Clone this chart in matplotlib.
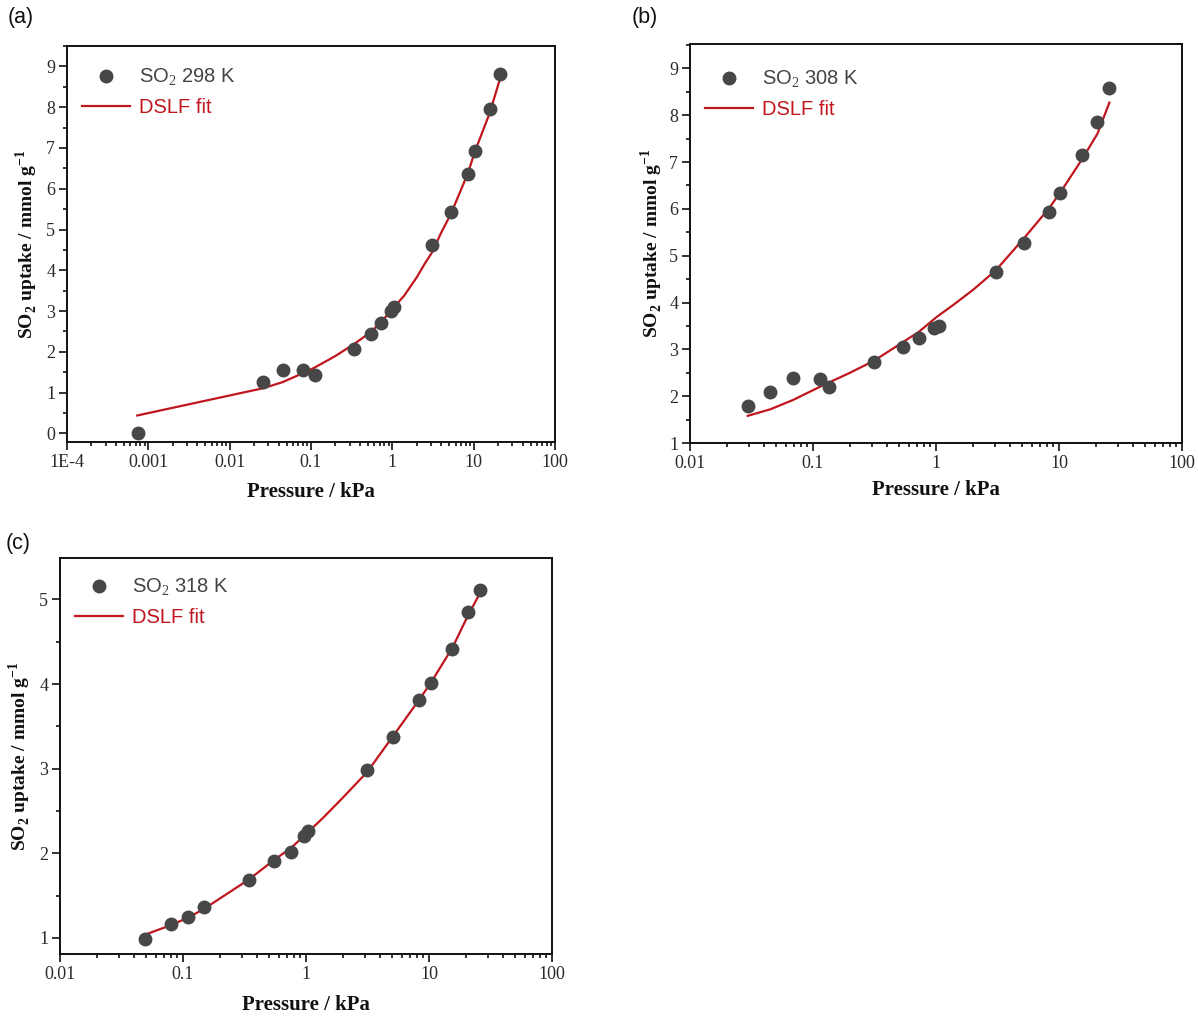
import matplotlib
matplotlib.use('Agg')
import matplotlib.pyplot as plt
from matplotlib.lines import Line2D
from matplotlib.ticker import LogLocator, FuncFormatter, MultipleLocator, NullFormatter, FixedLocator

plt.rcParams['mathtext.fontset'] = 'custom'
plt.rcParams['mathtext.rm'] = 'Liberation Serif'
plt.rcParams['mathtext.bf'] = 'Liberation Serif:bold'
plt.rcParams['mathtext.sf'] = 'Liberation Sans'

# ---------------- data ----------------
# (a) 298 K
p_298 = [0.00075, 0.026, 0.0448, 0.0796, 0.112, 0.337, 0.54, 0.726, 0.96, 1.04,
         3.1, 5.24, 8.5, 10.3, 15.7, 20.9]
q_298 = [0.0, 1.26, 1.565, 1.565, 1.44, 2.07, 2.44, 2.70, 2.99, 3.09,
         4.62, 5.44, 6.37, 6.93, 7.95, 8.82]
fit_p_298 = [0.00073, 0.021, 0.026, 0.045, 0.08, 0.112, 0.2, 0.337, 0.54, 0.726, 1.0,
             1.4, 2.0, 2.5, 3.1, 4.0, 5.24, 8.5, 10.3, 15.7, 20.9]
fit_q_298 = [0.44, 1.07, 1.11, 1.26, 1.48, 1.62, 1.90, 2.19, 2.48, 2.73, 3.05,
             3.38, 3.83, 4.16, 4.45, 4.93, 5.38, 6.38, 6.90, 7.85, 8.67]

# (b) 308 K
p_308 = [0.0295, 0.0447, 0.069, 0.113, 0.135, 0.315, 0.543, 0.731, 0.957, 1.06,
         3.07, 5.18, 8.23, 10.2, 15.4, 20.5, 25.7]
q_308 = [1.79, 2.08, 2.39, 2.37, 2.19, 2.73, 3.05, 3.25, 3.45, 3.50,
         4.65, 5.26, 5.93, 6.33, 7.15, 7.85, 8.58]
fit_p_308 = [0.0295, 0.045, 0.069, 0.12, 0.2, 0.315, 0.543, 0.731, 1.0, 1.4, 2.0,
             3.07, 5.18, 8.23, 10.2, 15.4, 20.5, 25.7]
fit_q_308 = [1.58, 1.72, 1.92, 2.23, 2.50, 2.76, 3.16, 3.38, 3.68, 3.96, 4.27,
             4.69, 5.37, 6.00, 6.34, 7.06, 7.60, 8.27]

# (c) 318 K
p_318 = [0.0494, 0.0794, 0.110, 0.147, 0.343, 0.548, 0.75, 0.958, 1.04,
         3.14, 5.13, 8.37, 10.4, 15.5, 20.9, 26.1]
q_318 = [0.99, 1.16, 1.25, 1.36, 1.69, 1.91, 2.01, 2.20, 2.26,
         2.98, 3.38, 3.81, 4.01, 4.42, 4.85, 5.11]
fit_p_318 = [0.0494, 0.0794, 0.110, 0.147, 0.343, 0.548, 0.75, 0.958, 1.04, 1.4, 2.0,
             3.14, 5.13, 8.37, 10.4, 15.5, 20.9, 26.1]
fit_q_318 = [1.04, 1.15, 1.24, 1.34, 1.69, 1.92, 2.06, 2.20, 2.25, 2.43, 2.66,
             2.96, 3.39, 3.82, 4.02, 4.43, 4.82, 5.08]

labels = ['SO$_2$ 298 K', 'SO$_2$ 308 K', 'SO$_2$ 318 K']
fit_label = 'DSLF fit'
panel_tags = ['(a)', '(b)', '(c)']
xlims = [(1e-4, 100), (0.01, 100), (0.01, 100)]
ylims = [(-0.21, 9.5), (1.0, 9.52), (0.81, 5.49)]
yticks = [list(range(0, 10)), list(range(1, 10)), [1, 2, 3, 4, 5]]

# ---------------- style ----------------
PT_COLOR = '#474747'
FIT_COLOR = '#c0161e'
TXT_COLOR = '#2a2a2a'
serif = 'Liberation Serif'
sans = 'Liberation Sans'

W, H = 1198, 1016
fig = plt.figure(figsize=(W / 100, H / 100), dpi=100)

boxes = [(67, 46, 555, 442), (690, 44, 1182, 443), (60, 558, 552, 954)]
tag_pos = [(8, 18), (632, 18), (6, 543)]
ylab_x = [27, 652, 20]
xlab_y = [492, 490, 1005]
leg_off = [(7, 13), (7, 17), (7, 11)]   # px offset of legend box from axes top-left


def fmt(v, pos):
    if abs(v - 1e-4) < 1e-9:
        return '1E-4'
    if v >= 1:
        return '%d' % round(v)
    return ('%g' % v)


datasets = [(p_298, q_298, fit_p_298, fit_q_298),
            (p_308, q_308, fit_p_308, fit_q_308),
            (p_318, q_318, fit_p_318, fit_q_318)]

for i, (px, qy, fx, fy) in enumerate(datasets):
    l, t, r, b = boxes[i]
    w, h = r - l, b - t
    ax = fig.add_axes([l / W, 1 - b / H, w / W, h / H])
    ax.plot(fx, fy, color=FIT_COLOR, lw=1.6, zorder=2)
    ax.plot(px, qy, 'o', color=PT_COLOR, ms=9, mec=PT_COLOR, zorder=3)
    ax.set_xscale('log')
    ax.set_xlim(*xlims[i])
    ax.set_ylim(*ylims[i])
    lo, hi = xlims[i]
    majors = [10.0 ** k for k in range(-4, 3) if lo * 0.999 <= 10.0 ** k <= hi * 1.001]
    ax.xaxis.set_major_locator(FixedLocator(majors))
    ax.xaxis.set_minor_locator(LogLocator(base=10, subs=range(2, 10), numticks=20))
    ax.xaxis.set_major_formatter(FuncFormatter(fmt))
    ax.xaxis.set_minor_formatter(NullFormatter())
    ax.yaxis.set_major_locator(FixedLocator(yticks[i]))
    ax.yaxis.set_minor_locator(MultipleLocator(0.5))
    ax.tick_params(which='both', direction='out', top=False, right=False,
                   width=1.2, colors='#111111')
    ax.tick_params(which='major', length=5.5, labelsize=13, pad=3)
    ax.tick_params(which='minor', length=3)
    for lab in ax.get_xticklabels() + ax.get_yticklabels():
        lab.set_fontfamily(serif)
        lab.set_color(TXT_COLOR)
    for s in ax.spines.values():
        s.set_linewidth(1.4)
        s.set_color('#111111')
    ax.set_xlabel('Pressure / kPa', fontfamily=serif, fontweight='bold',
                  fontsize=15, color='#111111', va='center')
    ax.set_ylabel(r'SO$_\mathbf{2}$ uptake / mmol g$^\mathbf{-1}$', fontfamily=serif,
                  fontweight='bold', fontsize=14, color='#111111', va='center')
    ax.xaxis.set_label_coords(0.5, -(xlab_y[i] - b) / h)
    ax.yaxis.set_label_coords((ylab_x[i] - l) / w, 0.5)
    handles = [Line2D([], [], marker='o', ls='none', color=PT_COLOR, ms=9),
               Line2D([], [], color=FIT_COLOR, lw=1.6)]
    ox, oy = leg_off[i]
    ax.legend(handles, [labels[i], fit_label], loc='upper left',
              bbox_to_anchor=(ox / w, 1 - oy / h), borderaxespad=0,
              frameon=False, handlelength=2.4, handletextpad=0.45,
              labelspacing=0.5,
              prop={'family': sans, 'size': 14.5},
              labelcolor=['#444444', FIT_COLOR])
    tx, ty = tag_pos[i]
    fig.text(tx / W, 1 - ty / H, panel_tags[i], fontfamily=sans, fontsize=15.5,
             va='center', ha='left', color='#111111')

fig.savefig('out.png', dpi=100)
